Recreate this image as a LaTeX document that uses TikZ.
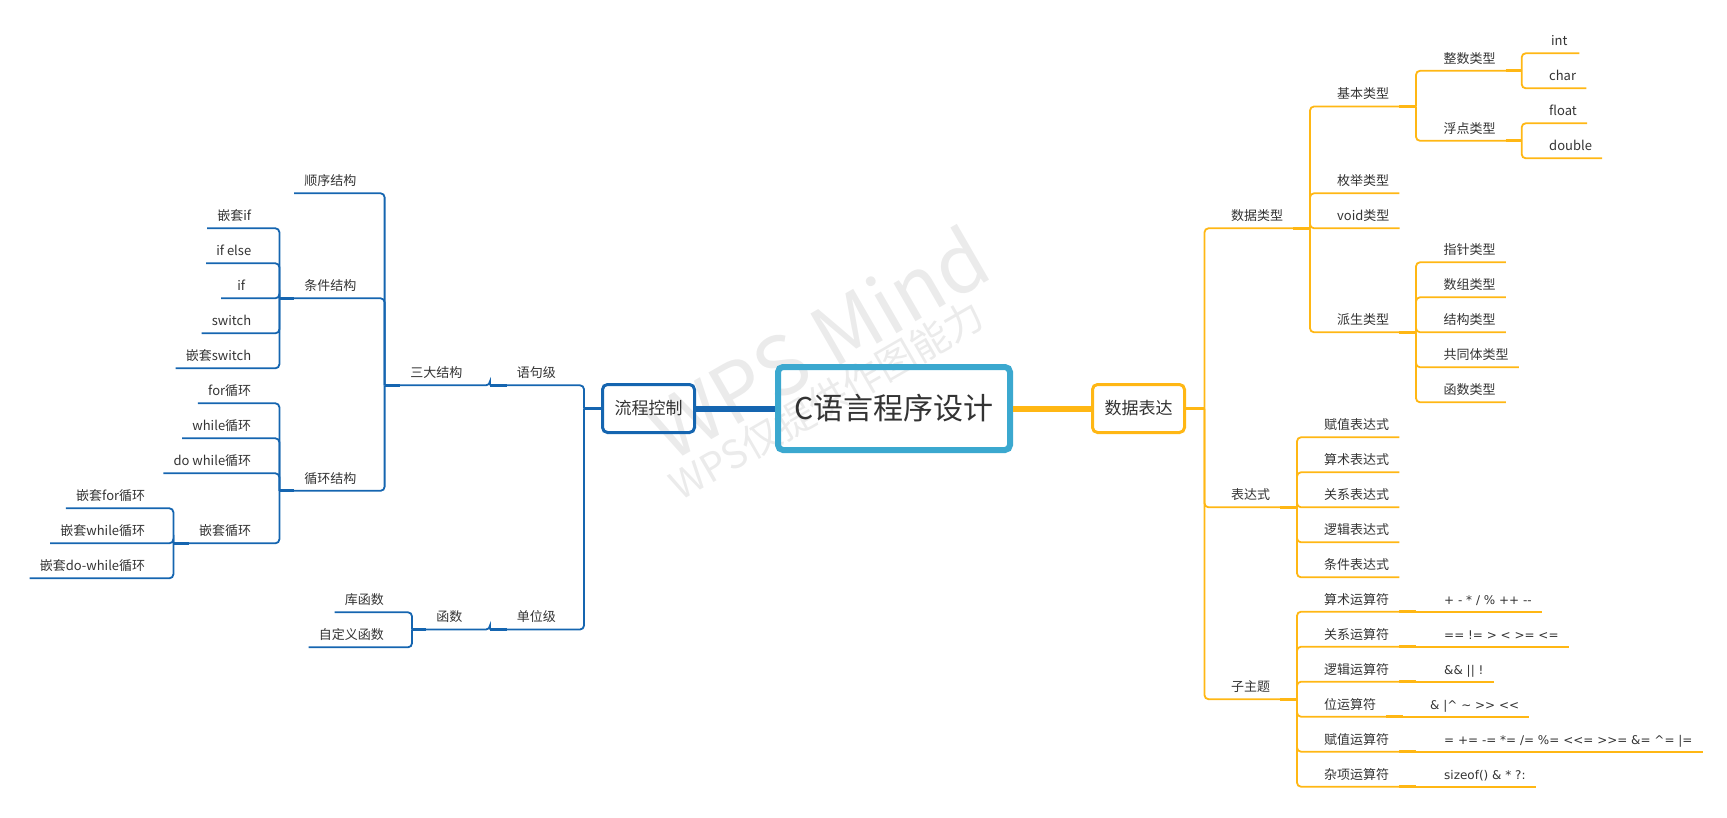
\documentclass[tikz,border=0pt]{standalone}
\usepackage{fontspec}
\newfontfamily\cjk{Noto Sans CJK SC}
\newfontfamily\opfont{DejaVu Sans}
\definecolor{bluec}{RGB}{21,101,176}
\definecolor{orc}{RGB}{255,183,20}
\definecolor{rootc}{RGB}{59,168,207}
\definecolor{txt}{RGB}{51,51,51}
\begin{document}
\begin{tikzpicture}[x=1pt,y=-1pt,
    lbl/.style={font=\cjk\fontsize{13}{15}\selectfont,text=txt,inner xsep=10pt,inner ysep=7.5pt,text depth=0pt,minimum width=40pt},
    lft/.style={lbl,anchor=south east},
    rgt/.style={lbl,anchor=south west},
    ops/.style={rgt,font=\opfont\fontsize{12}{14}\selectfont},
    bl/.style={draw=bluec,line width=1.8pt,rounded corners=4pt},
    blstub/.style={draw=bluec,line width=3.2pt},
    og/.style={draw=orc,line width=1.8pt,rounded corners=4pt},
    ogstub/.style={draw=orc,line width=3.2pt},
    topic/.style={draw,rounded corners=5pt,line width=3pt,text=txt,font=\cjk\fontsize{17}{20}\selectfont,minimum width=92pt,minimum height=48pt},
    wm/.style={text=black!8,anchor=base,rotate=30}]
\useasboundingbox (0,0) rectangle (1727,818);

% watermark, under everything
\node[wm,font=\cjk\fontsize{81}{90}\selectfont] (wm1) at (833,370) {WPS Mind};
\node[wm,font=\cjk\fontsize{39}{44}\selectfont] (wm2) at (834,413) {WPS仅提供作图能力};

% centre and the two main topics
\node[topic,draw=rootc,line width=6pt,minimum width=232pt,minimum height=83pt,font=\cjk\fontsize{30}{36}\selectfont] (root) at (894,408.5) {C语言程序设计};
\node[topic,draw=bluec] (lc) at (648.5,408.5) {流程控制};
\node[topic,draw=orc] (sj) at (1138.5,408.5) {数据表达};
\draw[draw=bluec,line width=6pt] (lc.east) -- (root.west);
\draw[draw=orc,line width=6pt] (root.east) -- (sj.west);

% ---- left: 流程控制
\coordinate (j-lc) at (584,408.5);
\draw[blstub] (lc.west) -- (j-lc);
\node[lft] (yj) at (566,385.3) {语句级};
\node[lft] (dw) at (566,629.5) {单位级};
\foreach \c in {yj,dw} \draw[bl] (j-lc) |- (\c.south east) -- (\c.south west);

\coordinate (j-yj) at (490,385.3);
\draw[blstub] (j-yj) -- (yj.south west);
\node[lft] (sd) at (472.5,385.3) {三大结构};
\draw[bl] (j-yj) |- (sd.south east) -- (sd.south west);

\coordinate (j-sd) at (384.6,385.3);
\draw[blstub] (j-sd) -- (sd.south west);
\node[lft] (sx) at (366.6,193.3) {顺序结构};
\node[lft] (tj) at (366.6,298.3) {条件结构};
\node[lft] (xh) at (366.6,490.8) {循环结构};
\foreach \c in {sx,tj,xh} \draw[bl] (j-sd) |- (\c.south east) -- (\c.south west);

\coordinate (j-tj) at (279.4,298.3);
\draw[blstub] (j-tj) -- (tj.south west);
\node[lft] (qi) at (261.4,228.3) {嵌套if};
\node[lft] (ie) at (261.4,263.3) {if else};
\node[lft] (if) at (261.4,298.3) {if};
\node[lft] (sw) at (261.4,333.3) {switch};
\node[lft] (qs) at (261.4,368.3) {嵌套switch};
\foreach \c in {qi,ie,if,sw,qs} \draw[bl] (j-tj) |- (\c.south east) -- (\c.south west);

\coordinate (j-xh) at (279.4,490.8);
\draw[blstub] (j-xh) -- (xh.south west);
\node[lft] (fx) at (261.4,403.3) {for循环};
\node[lft] (wx) at (261.4,438.3) {while循环};
\node[lft] (dx) at (261.4,473.3) {do while循环};
\node[lft] (qx) at (261.4,543.3) {嵌套循环};
\foreach \c in {fx,wx,dx,qx} \draw[bl] (j-xh) |- (\c.south east) -- (\c.south west);

\coordinate (j-qx) at (173.4,543.3);
\draw[blstub] (j-qx) -- (qx.south west);
\node[lft] (qf) at (155.4,508.3) {嵌套for循环};
\node[lft] (qw) at (155.4,543.3) {嵌套while循环};
\node[lft] (qd) at (155.4,578.3) {嵌套do-while循环};
\foreach \c in {qf,qw,qd} \draw[bl] (j-qx) |- (\c.south east) -- (\c.south west);

\coordinate (j-dw) at (490,629.5);
\draw[blstub] (j-dw) -- (dw.south west);
\node[lft] (hs) at (472.5,629.5) {函数};
\draw[bl] (j-dw) |- (hs.south east) -- (hs.south west);

\coordinate (j-hs) at (412,629.5);
\draw[blstub] (j-hs) -- (hs.south west);
\node[lft] (kh) at (394,612.3) {库函数};
\node[lft] (zd) at (394,647.3) {自定义函数};
\foreach \c in {kh,zd} \draw[bl] (j-hs) |- (\c.south east) -- (\c.south west);

% ---- right: 数据表达
\coordinate (j-sj) at (1204.5,408.5);
\draw[ogstub] (sj.east) -- (j-sj);
\node[rgt] (sl) at (1221,228.3) {数据类型};
\node[rgt] (bd) at (1221,507.3) {表达式};
\node[rgt] (zt) at (1221,699.2) {子主题};
\foreach \c in {sl,bd,zt} \draw[og] (j-sj) |- (\c.south west) -- (\c.south east);

\coordinate (j-sl) at (1310,228.3);
\draw[ogstub] (sl.south east) -- (j-sl);
\node[rgt] (jb) at (1327,106.5) {基本类型};
\node[rgt] (mj) at (1327,193.3) {枚举类型};
\node[rgt] (vd) at (1327,228.3) {void类型};
\node[rgt] (ps) at (1327,332.3) {派生类型};
\foreach \c in {jb,mj,vd,ps} \draw[og] (j-sl) |- (\c.south west) -- (\c.south east);

\coordinate (j-jb) at (1416,106.5);
\draw[ogstub] (jb.south east) -- (j-jb);
\node[rgt] (zs) at (1433.5,70.8) {整数类型};
\node[rgt] (fd) at (1433.5,140.8) {浮点类型};
\foreach \c in {zs,fd} \draw[og] (j-jb) |- (\c.south west) -- (\c.south east);

\coordinate (j-zs) at (1521.7,70.8);
\draw[ogstub] (zs.south east) -- (j-zs);
\node[rgt] (it) at (1539,53.3) {int};
\node[rgt] (ch) at (1539,88.3) {char};
\foreach \c in {it,ch} \draw[og] (j-zs) |- (\c.south west) -- (\c.south east);

\coordinate (j-fd) at (1521.7,140.8);
\draw[ogstub] (fd.south east) -- (j-fd);
\node[rgt] (fl) at (1539,123.3) {float};
\node[rgt] (db) at (1539,158.3) {double};
\foreach \c in {fl,db} \draw[og] (j-fd) |- (\c.south west) -- (\c.south east);

\coordinate (j-ps) at (1416,332.3);
\draw[ogstub] (ps.south east) -- (j-ps);
\node[rgt] (zz) at (1433.5,262.3) {指针类型};
\node[rgt] (sz) at (1433.5,297.3) {数组类型};
\node[rgt] (jg) at (1433.5,332.3) {结构类型};
\node[rgt] (gt) at (1433.5,367.3) {共同体类型};
\node[rgt] (hl) at (1433.5,402.3) {函数类型};
\foreach \c in {zz,sz,jg,gt,hl} \draw[og] (j-ps) |- (\c.south west) -- (\c.south east);

\coordinate (j-bd) at (1297,507.3);
\draw[ogstub] (bd.south east) -- (j-bd);
\node[rgt] (fz) at (1314,437.3) {赋值表达式};
\node[rgt] (ss) at (1314,472.3) {算术表达式};
\node[rgt] (gx) at (1314,507.3) {关系表达式};
\node[rgt] (lj) at (1314,542.3) {逻辑表达式};
\node[rgt] (tb) at (1314,577.3) {条件表达式};
\foreach \c in {fz,ss,gx,lj,tb} \draw[og] (j-bd) |- (\c.south west) -- (\c.south east);

\coordinate (j-zt) at (1297,699.2);
\draw[ogstub] (zt.south east) -- (j-zt);
\node[rgt] (sy) at (1314,611.7) {算术运算符};
\node[rgt] (gy) at (1314,646.7) {关系运算符};
\node[rgt] (ly) at (1314,681.7) {逻辑运算符};
\node[rgt] (wy) at (1314,716.7) {位运算符};
\node[rgt] (fy) at (1314,751.7) {赋值运算符};
\node[rgt] (zy) at (1314,786.7) {杂项运算符};
\foreach \c in {sy,gy,ly,wy,fy,zy} \draw[og] (j-zt) |- (\c.south west) -- (\c.south east);

% operators, one per group
\node[ops] (so) at (1434,611.7) {+ - * / \% ++ --};
\node[ops] (go) at (1434,646.7) {== != > < >= <=};
\node[ops] (lo) at (1434,681.7) {\&\& || !};
\node[ops] (wo) at (1420,716.7) {\& |\textasciicircum{} \textasciitilde{} >> <<};
\node[ops] (fo) at (1434,751.7) {= += -= *= /= \%= <<= >>= \&= \textasciicircum= |=};
\node[ops] (zo) at (1434,786.7) {sizeof() \& * ?:};
\foreach \p/\c/\x in {sy/so/1416,gy/go/1416,ly/lo/1416,wy/wo/1403,fy/fo/1416,zy/zo/1416} {
  \coordinate (j-\p) at (\x,0 |- \p.south);
  \draw[ogstub] (\p.south east) -- (j-\p);
  \draw[og] (j-\p) -- (\c.south west) -- (\c.south east);
}
\end{tikzpicture}
\end{document}
